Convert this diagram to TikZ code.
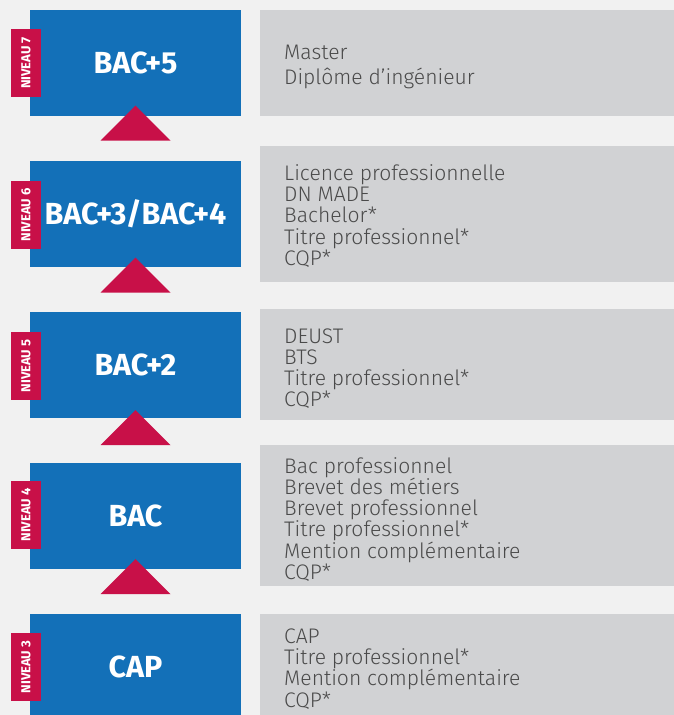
\documentclass[tikz,border=0pt]{standalone}
\usepackage{fontspec}
\setmainfont{Fira Sans}
\newfontfamily\firalight{Fira Sans Light}
\usetikzlibrary{calc}
\definecolor{bgc}{HTML}{F1F1F1}
\definecolor{bluec}{HTML}{1370B8}
\definecolor{redc}{HTML}{C81048}
\definecolor{grayc}{HTML}{D1D2D4}
\definecolor{txtc}{HTML}{4A4A4A}
\newcommand\linesblock[2]{\vtop{\baselineskip=#1\lineskiplimit=-100pt\lineskip=0pt\halign{##\hfil\cr #2\crcr}}}
\tikzset{
  levelbox/.style={fill=bluec, text=white, minimum width=211pt, minimum height=106pt, inner sep=0pt,
    font=\fontsize{30.5}{34}\selectfont\bfseries},
  leveltab/.style={fill=redc, text=white, rotate=90, minimum width=68pt, minimum height=30pt, inner sep=0pt,
    font=\fontsize{13}{15}\selectfont\bfseries},
  listbox/.style={fill=grayc, anchor=north west, minimum width=414pt, inner sep=0pt},
  listtext/.style={text=txtc, anchor=base west, inner sep=0pt, font=\fontsize{21.1}{21}\firalight},
  uptri/.style={fill=redc}
}
\begin{document}
\begin{tikzpicture}[x=1pt,y=-1pt]
\useasboundingbox (0,0) rectangle (674,715);
\clip (0,0) rectangle (674,715);
\fill[bgc] (0,0) rectangle (674,715);

% grey list boxes
\node[listbox, minimum height=105.5pt] (g1) at (260,10) {};
\node[listbox, minimum height=136pt] (g2) at (260,146) {};
\node[listbox, minimum height=111pt] (g3) at (260,309) {};
\node[listbox, minimum height=141pt] (g4) at (260,445) {};
\node[listbox, minimum height=110pt] (g5) at (260,614) {};

% list texts
\node[listtext] (t1) at (284,59) {\linesblock{25pt}{Master\cr Diplôme d’ingénieur}};
\node[listtext] (t2) at (284,180.7) {\linesblock{21.1pt}{Licence professionnelle\cr DN MADE\cr Bachelor*\cr Titre professionnel*\cr CQP*}};
\node[listtext] (t3) at (284,343.3) {\linesblock{21.1pt}{DEUST\cr BTS\cr Titre professionnel*\cr CQP*}};
\node[listtext] (t4) at (284,473.3) {\linesblock{21.2pt}{Bac professionnel\cr Brevet des métiers\cr Brevet professionnel\cr Titre professionnel*\cr Mention complémentaire\cr CQP*}};
\node[listtext] (t5) at (284,643.3) {\linesblock{21.3pt}{CAP\cr Titre professionnel*\cr Mention complémentaire\cr CQP*}};

% blue level boxes
\node[levelbox] (b1) at (135.5,63) {BAC+5};
\node[levelbox] (b2) at (135.5,214) {BAC+3/BAC+4};
\node[levelbox] (b3) at (135.5,365) {BAC+2};
\node[levelbox] (b4) at (135.5,516) {BAC};
\node[levelbox] (b5) at (135.5,667) {CAP};

% red tabs
\node[leveltab] (n1) at (26,63) {NIVEAU 7};
\node[leveltab] (n2) at (26,215) {NIVEAU 6};
\node[leveltab] (n3) at (26,366) {NIVEAU 5};
\node[leveltab] (n4) at (26,515) {NIVEAU 4};
\node[leveltab] (n5) at (26,667) {NIVEAU 3};

% up triangles
\foreach \b/\d in {b1/0,b2/1,b3/2.5,b4/0.5}{
  \fill[uptri] ($(\b.south)+(0,-10.5+\d)$) -- ($(\b.south)+(-35,24.5+\d)$) -- ($(\b.south)+(35,24.5+\d)$) -- cycle;
}
\end{tikzpicture}
\end{document}
